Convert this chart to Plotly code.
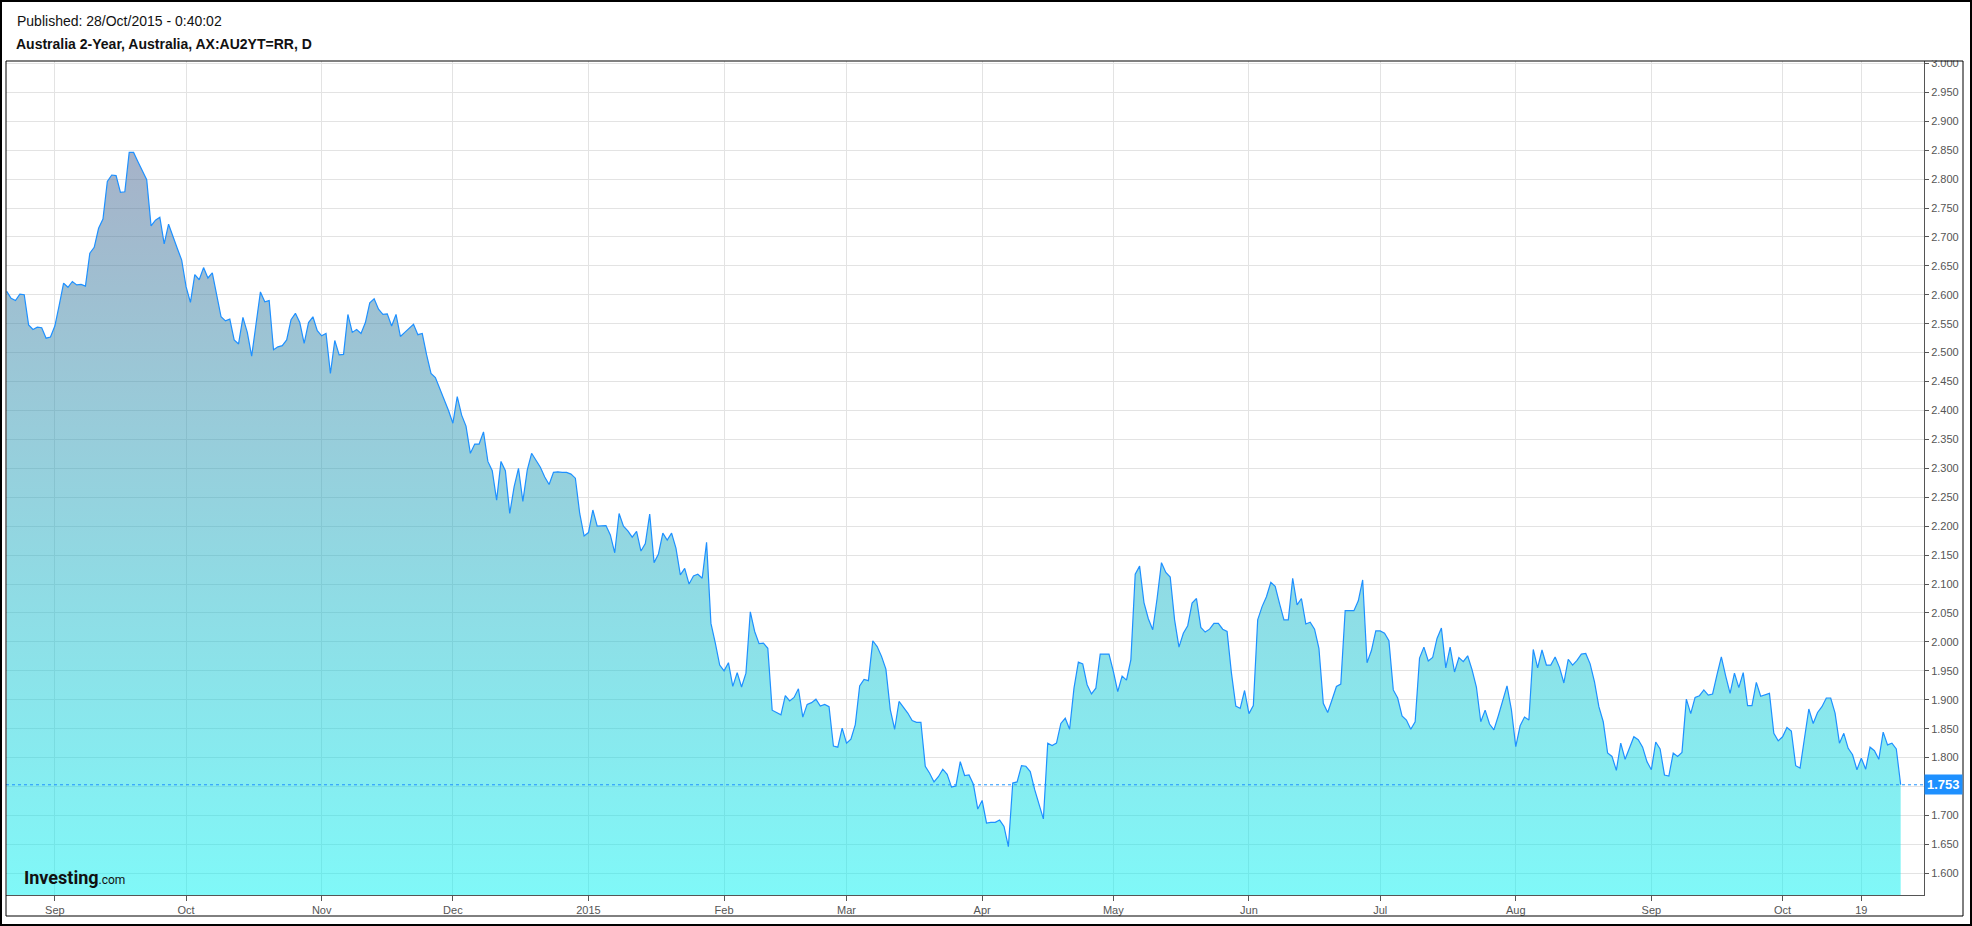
import plotly.graph_objects as go
import pandas as pd

# ---------------- data (daily closing yield, %) ----------------
start_date = "2014-08-21"

aug_2014 = [2.606, 2.594, 2.590, 2.601, 2.600, 2.548, 2.540, 2.544, 2.543, 2.525, 2.527]
sep_2014 = [2.546, 2.582, 2.620, 2.613, 2.623, 2.617, 2.618, 2.615, 2.672, 2.682,
            2.715, 2.731, 2.796, 2.807, 2.806, 2.777, 2.778, 2.846, 2.846, 2.830,
            2.814, 2.799, 2.719, 2.729, 2.734, 2.688, 2.722, 2.699, 2.680, 2.660]
oct_2014 = [2.614, 2.587, 2.635, 2.626, 2.647, 2.629, 2.638, 2.600, 2.562, 2.555,
            2.558, 2.522, 2.515, 2.561, 2.535, 2.494, 2.550, 2.605, 2.588, 2.590,
            2.505, 2.510, 2.512, 2.522, 2.557, 2.568, 2.552, 2.516, 2.552, 2.562, 2.538]
nov_2014 = [2.529, 2.533, 2.464, 2.521, 2.496, 2.497, 2.566, 2.535, 2.540, 2.533,
            2.552, 2.586, 2.593, 2.575, 2.566, 2.567, 2.546, 2.566, 2.528, 2.535,
            2.542, 2.549, 2.531, 2.533, 2.496, 2.464, 2.457, 2.438, 2.421, 2.400]
dec_2014 = [2.378, 2.424, 2.392, 2.373, 2.326, 2.342, 2.342, 2.363, 2.312, 2.296,
            2.245, 2.312, 2.296, 2.222, 2.268, 2.300, 2.243, 2.297, 2.326, 2.313,
            2.302, 2.285, 2.272, 2.293, 2.294, 2.293, 2.293, 2.290, 2.283, 2.222, 2.183]
jan_2015 = [2.189, 2.228, 2.200, 2.200, 2.201, 2.185, 2.154, 2.222, 2.200, 2.192,
            2.181, 2.191, 2.157, 2.170, 2.221, 2.137, 2.152, 2.188, 2.176, 2.188,
            2.162, 2.116, 2.127, 2.100, 2.114, 2.117, 2.110, 2.172, 2.032, 1.998, 1.960]
feb_2015 = [1.950, 1.964, 1.923, 1.947, 1.922, 1.946, 2.052, 2.018, 1.997, 1.998,
            1.989, 1.882, 1.878, 1.874, 1.907, 1.898, 1.904, 1.919, 1.870, 1.892,
            1.895, 1.901, 1.889, 1.892, 1.888, 1.820, 1.818, 1.851]
mar_2015 = [1.825, 1.832, 1.857, 1.924, 1.935, 1.933, 2.002, 1.992, 1.975, 1.953,
            1.883, 1.849, 1.897, 1.887, 1.877, 1.864, 1.861, 1.861, 1.785, 1.773,
            1.758, 1.767, 1.780, 1.771, 1.749, 1.751, 1.793, 1.769, 1.770, 1.754, 1.711]
apr_2015 = [1.726, 1.687, 1.688, 1.688, 1.692, 1.681, 1.646, 1.756, 1.758, 1.786,
            1.785, 1.776, 1.745, 1.721, 1.694, 1.825, 1.821, 1.825, 1.859, 1.868,
            1.849, 1.920, 1.965, 1.962, 1.926, 1.910, 1.920, 1.979, 1.979, 1.979]
may_2015 = [1.949, 1.914, 1.941, 1.934, 1.969, 2.117, 2.131, 2.068, 2.040, 2.021,
            2.075, 2.137, 2.120, 2.112, 2.038, 1.991, 2.015, 2.028, 2.067, 2.075,
            2.025, 2.017, 2.022, 2.032, 2.032, 2.022, 2.018, 1.946, 1.889, 1.885, 1.916]
jun_2015 = [1.876, 1.890, 2.038, 2.061, 2.078, 2.103, 2.096, 2.066, 2.038, 2.038,
            2.110, 2.064, 2.075, 2.031, 2.034, 2.022, 1.989, 1.894, 1.878, 1.900,
            1.923, 1.927, 2.054, 2.054, 2.054, 2.071, 2.107, 1.964, 1.985, 2.019]
jul_2015 = [2.019, 2.015, 2.002, 1.917, 1.903, 1.872, 1.865, 1.849, 1.862, 1.972,
            1.991, 1.967, 1.973, 2.006, 2.024, 1.955, 1.991, 1.948, 1.973, 1.966,
            1.976, 1.952, 1.922, 1.862, 1.882, 1.858, 1.848, 1.872, 1.897, 1.924, 1.883]
aug_2015 = [1.819, 1.855, 1.870, 1.865, 1.987, 1.955, 1.986, 1.960, 1.960, 1.974,
            1.956, 1.929, 1.970, 1.960, 1.968, 1.979, 1.980, 1.962, 1.931, 1.888,
            1.862, 1.808, 1.802, 1.778, 1.825, 1.797, 1.816, 1.836, 1.831, 1.818, 1.793]
sep_2015 = [1.779, 1.827, 1.815, 1.770, 1.768, 1.808, 1.802, 1.809, 1.901, 1.876,
            1.904, 1.907, 1.917, 1.908, 1.910, 1.943, 1.974, 1.941, 1.911, 1.946,
            1.921, 1.947, 1.890, 1.890, 1.930, 1.906, 1.908, 1.911, 1.842, 1.829]
oct_2015 = [1.836, 1.852, 1.846, 1.786, 1.782, 1.832, 1.884, 1.859, 1.878, 1.888,
            1.903, 1.903, 1.877, 1.825, 1.842, 1.816, 1.805, 1.779, 1.799, 1.780,
            1.818, 1.812, 1.797, 1.844, 1.822, 1.825, 1.815, 1.753]

tick_dates = ["2014-09-01", "2014-10-01", "2014-11-01", "2014-12-01", "2015-01-01",
              "2015-02-01", "2015-03-01", "2015-04-01", "2015-05-01", "2015-06-01",
              "2015-07-01", "2015-08-01", "2015-09-01", "2015-10-01", "2015-10-19"]
tick_labels = ["Sep", "Oct", "Nov", "Dec", "2015", "Feb", "Mar", "Apr", "May",
               "Jun", "Jul", "Aug", "Sep", "Oct", "19"]

y_tick_values = [1.60, 1.65, 1.70, 1.75, 1.80, 1.85, 1.90, 1.95, 2.00, 2.05, 2.10,
                 2.15, 2.20, 2.25, 2.30, 2.35, 2.40, 2.45, 2.50, 2.55, 2.60, 2.65,
                 2.70, 2.75, 2.80, 2.85, 2.90, 2.95, 3.00]

published_text = "Published: 28/Oct/2015 - 0:40:02"
title_text = "Australia 2-Year, Australia, AX:AU2YT=RR, D"

values = (aug_2014 + sep_2014 + oct_2014 + nov_2014 + dec_2014 + jan_2015 + feb_2015
          + mar_2015 + apr_2015 + may_2015 + jun_2015 + jul_2015 + aug_2015
          + sep_2015 + oct_2015)
dates = pd.date_range(start_date, periods=len(values), freq="D")
last_value = values[-1]

# the current-value badge hides the nearby axis label (as in the original)
y_tick_text = ["" if abs(v - last_value) < 0.02 else "%.3f" % v for v in y_tick_values]

# ---------------- layout geometry (pixels) ----------------
W, H = 1972, 926
PL, PR, PT, PB = 6, 1924, 61, 895          # plot area
Y_LO, Y_HI = 1.5625, 3.0041
pw, ph = PR - PL, PB - PT


def px_x(p):
    return (p - PL) / pw


def px_y(p):
    return (PB - p) / ph


FONT = "Arial, Liberation Sans, sans-serif"
LINE_BLUE = "#1e90ff"

fig = go.Figure()
fig.add_trace(go.Scatter(
    x=dates, y=values, mode="lines",
    line=dict(color=LINE_BLUE, width=1.2),
    fill="tozeroy",
    fillgradient=dict(
        type="vertical",
        colorscale=[[0, "rgba(1,241,241,0.5)"], [1, "rgba(77,101,145,0.5)"]],
        start=Y_LO, stop=2.85,
    ),
    hoverinfo="skip", showlegend=False,
))

fig.update_layout(
    width=W, height=H,
    margin=dict(l=PL, r=W - PR, t=PT, b=H - PB, pad=0),
    paper_bgcolor="white", plot_bgcolor="white",
    showlegend=False,
    font=dict(family=FONT, size=11, color="#555"),
    xaxis=dict(
        type="date",
        range=["2014-08-20 20:00", "2015-11-02 08:00"],
        tickmode="array", tickvals=tick_dates, ticktext=tick_labels,
        showgrid=True, gridcolor="#e3e3e3", gridwidth=1,
        showline=True, linecolor="#555", linewidth=1,
        ticks="outside", ticklen=5, tickcolor="#555",
        tickfont=dict(family=FONT, size=11, color="#555"),
        zeroline=False, fixedrange=True,
    ),
    yaxis=dict(
        side="right", range=[Y_LO, Y_HI],
        tickmode="array", tickvals=y_tick_values, ticktext=y_tick_text,
        showgrid=True, gridcolor="#e3e3e3", gridwidth=1,
        showline=True, linecolor="#555", linewidth=1,
        ticks="outside", ticklen=4, tickcolor="#555",
        tickfont=dict(family=FONT, size=11, color="#555"),
        zeroline=False, fixedrange=True,
    ),
)

shapes = [
    # last value dotted line
    dict(type="line", xref="paper", yref="y", x0=0, x1=1, y0=last_value, y1=last_value,
         line=dict(color=LINE_BLUE, width=1, dash="dot"), layer="above"),
    # cover the top half of the clipped 3.000 label
    dict(type="rect", xref="paper", yref="paper", x0=px_x(1926), x1=px_x(1962),
         y0=px_y(60.5), y1=px_y(45), fillcolor="white", line=dict(width=0), layer="above"),
    # chart box
    dict(type="rect", xref="paper", yref="paper", x0=px_x(6), x1=px_x(1963),
         y0=px_y(916), y1=px_y(61), line=dict(color="black", width=1),
         fillcolor="rgba(0,0,0,0)", layer="above"),
    # outer frame
    dict(type="rect", xref="paper", yref="paper", x0=px_x(1), x1=px_x(1971),
         y0=px_y(925), y1=px_y(1), line=dict(color="black", width=2),
         fillcolor="rgba(0,0,0,0)", layer="above"),
]
fig.update_layout(shapes=shapes)

annotations = [
    dict(text=published_text, xref="paper", yref="paper", x=px_x(15), y=px_y(20.5),
         xanchor="left", yanchor="middle", showarrow=False,
         font=dict(family=FONT, size=14, color="#111")),
    dict(text="<b>" + title_text + "</b>", xref="paper", yref="paper", x=px_x(14),
         y=px_y(44.5), xanchor="left", yanchor="middle", showarrow=False,
         font=dict(family=FONT, size=14, color="#111")),
    dict(text="<b>%.3f</b>" % last_value, xref="paper", yref="y", x=1, y=last_value,
         xanchor="left", yanchor="middle", showarrow=False, bgcolor=LINE_BLUE,
         borderpad=2, font=dict(family=FONT, size=13, color="white")),
    dict(text='<b>Investing</b><span style="font-size:12px">.com</span>',
         xref="paper", yref="paper", x=px_x(22), y=px_y(877), xanchor="left",
         yanchor="middle", showarrow=False,
         font=dict(family="Roboto, Liberation Sans, Arial", size=18, color="#111")),
]
fig.update_layout(annotations=annotations)

fig.write_html("out.html", config=dict(displayModeBar=False),
               post_script="document.body.style.margin='0';document.body.style.overflow='hidden';")
